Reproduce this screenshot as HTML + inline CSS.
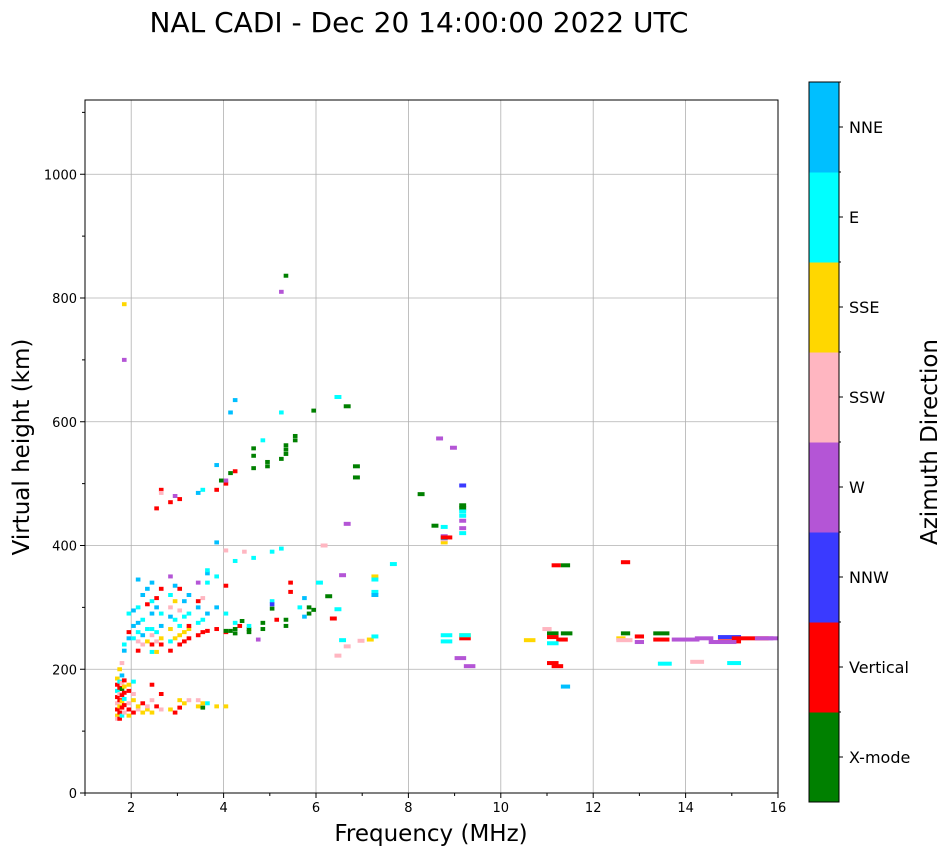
<!DOCTYPE html>
<html><head><meta charset="utf-8"><style>
body{margin:0;background:#fff;}
svg{display:block;font-family:"DejaVu Sans","Liberation Sans",sans-serif;}
</style></head><body>
<svg id="chart" width="951" height="856" viewBox="0 0 951 856" xmlns="http://www.w3.org/2000/svg">
<defs><clipPath id="plotclip"><rect x="85" y="100" width="693" height="693"/></clipPath></defs>
<text x="419" y="32" font-size="28" text-anchor="middle">NAL CADI - Dec 20 14:00:00 2022 UTC</text>
<g id="grid"></g>
<g id="marks" clip-path="url(#plotclip)"></g>
<rect x="85" y="100" width="693" height="693" fill="none" stroke="#000" stroke-width="1"/>
<g id="axes"></g>
<text x="431" y="841" font-size="23" text-anchor="middle">Frequency (MHz)</text>
<text transform="translate(29,447) rotate(-90)" font-size="23" text-anchor="middle">Virtual height (km)</text>
<g id="cbar"></g>
<text transform="translate(937,442) rotate(-90)" font-size="23" text-anchor="middle">Azimuth Direction</text>
</svg>
<script>
const dirLabels=["X-mode","Vertical","NNW","W","SSW","SSE","E","NNE"];
const dirColors=["#008000","#ff0000","#3a3aff","#b455d6","#ffb6c1","#ffd700","#00ffff","#00bfff"];
const xTicks=[2,4,6,8,10,12,14,16];
const yTicks=[0,200,400,600,800,1000];
// echoes: frequency (MHz), virtual height (km), direction index, width (MHz)
const freqs=[
1.65,1.65,1.65,1.65,1.65,1.65,1.65,1.65,
1.7,1.7,1.7,1.7,1.7,1.7,1.7,1.7,
1.75,1.75,1.75,1.75,1.75,1.75,1.75,1.75,
1.8,1.8,1.8,1.8,1.8,1.8,1.8,1.8,1.8,1.8,
1.9,1.9,1.9,1.9,1.9,1.9,1.9,1.9,
2.0,2.0,2.0,2.0,2.0,2.0,2.0,
2.1,2.1,2.1,2.1,2.1,2.1,2.1,2.1,
2.2,2.2,2.2,2.2,2.2,2.2,
2.3,2.3,2.3,2.3,2.3,2.3,
2.4,2.4,2.4,2.4,2.4,2.4,2.4,2.4,2.4,2.4,
2.5,2.5,2.5,2.5,2.5,2.5,2.5,
2.6,2.6,2.6,2.6,2.6,2.6,2.6,2.6,2.6,
2.8,2.8,2.8,2.8,2.8,2.8,2.8,2.8,2.8,
2.9,2.9,2.9,2.9,2.9,2.9,
3.0,3.0,3.0,3.0,3.0,3.0,3.0,3.0,
3.1,3.1,3.1,3.1,3.1,
3.2,3.2,3.2,3.2,3.2,3.2,
3.4,3.4,3.4,3.4,3.4,3.4,3.4,3.4,
3.5,3.5,3.5,3.5,3.5,3.5,
3.6,3.6,3.6,3.6,3.6,3.6,
3.8,3.8,3.8,3.8,3.8,3.8,3.8,
4.0,4.0,4.0,4.0,4.0,4.0,
4.1,4.2,5.2,4.8,4.6,4.6,4.6,4.2,3.9,4.9,4.9,5.2,5.3,5.3,5.3,5.5,5.5,4.1,4.4,4.2,4.0,4.6,5.0,5.2,5.4,6.0,
5.8,5.8,5.9,5.7,5.3,5.3,5.1,4.8,4.8,4.5,4.5,4.2,4.2,4.0,5.0,5.0,5.6,5.7,5.4,5.0,4.7,4.2,4.5,4.3,4.35,4.1,
5.2,5.3,
7.6,7.2,7.2,7.2,7.2,6.8,6.8,6.6,6.4,6.6,6.1,5.9,6.4,6.2,6.5,6.4,6.6,6.9,7.1,7.2,6.3,6.5,
9.1,9.1,9.1,9.1,9.1,9.1,9.1,9.1,8.6,8.9,8.5,8.2,8.7,8.7,8.7,8.7,8.7,8.7,8.7,8.7,9.1,9.1,9.1,9.0,9.2,
11.1,11.3,12.6,11.3,11.0,11.1,10.5,11.0,11.0,11.2,11.0,11.3,10.9,
12.5,12.6,12.9,12.9,12.5,13.3,13.3,13.4,13.7,14.1,14.2,14.7,14.7,15.0,15.5,15.8,14.9,14.5
];
const heights=[
125,135,145,155,165,175,185,120,
130,140,150,160,170,180,200,120,
125,138,148,158,168,178,190,210,
130,142,152,162,172,182,700,790,230,240,
125,135,145,165,175,250,260,290,
130,150,160,180,250,270,295,
135,140,230,245,260,275,300,345,
130,145,240,255,280,320,
135,140,245,265,305,330,
130,150,175,240,255,265,290,310,340,228,
140,228,245,260,300,315,460,
135,160,240,250,270,290,330,490,485,
135,230,245,265,285,300,320,350,470,
130,250,280,310,335,480,
138,150,240,255,270,295,330,475,
145,245,260,285,310,
150,250,265,290,320,270,
140,150,255,275,300,310,340,485,
138,145,260,280,315,490,
145,262,290,340,355,360,
140,265,300,350,405,490,530,
140,260,290,335,500,505,
615,635,615,570,557,545,525,520,505,528,535,540,548,555,562,570,577,517,390,375,392,380,390,395,340,340,
300,290,296,285,270,280,280,275,265,265,260,258,265,262,298,310,300,315,325,305,248,275,270,270,278,262,
810,836,
370,350,345,325,320,528,510,625,640,435,400,618,297,318,247,222,237,246,248,253,282,352,
465,460,455,448,440,428,420,497,573,558,432,483,430,415,405,410,412,413,255,245,250,255,255,218,205,
368,368,373,172,210,205,247,258,252,248,242,258,265,
250,258,253,244,247,258,248,209,248,212,250,252,245,250,250,250,210,244
];
const dirs=[
5,1,4,1,6,1,5,4,
1,5,1,4,1,6,5,1,
6,1,5,1,0,4,7,4,
4,1,6,1,5,1,3,5,7,6,
5,1,4,1,5,7,1,6,
1,5,4,6,6,7,7,
4,5,1,4,6,7,6,7,
5,1,4,7,6,7,
5,4,5,6,1,7,
5,4,1,1,4,6,7,6,7,6,
1,5,4,6,7,1,1,
4,1,1,5,7,6,1,1,4,
5,1,6,5,7,4,6,3,1,
1,5,6,5,7,3,
1,5,1,5,6,4,1,1,
5,1,5,6,7,
4,1,5,6,7,1,
5,4,1,6,7,1,3,7,
0,5,1,6,4,6,
6,1,7,6,7,6,
5,1,7,6,7,1,7,
5,1,6,1,1,3,
7,7,6,6,0,0,0,1,0,0,0,0,0,0,0,0,0,0,4,6,4,6,6,6,1,6,
0,0,0,7,0,0,1,0,0,0,0,0,0,0,0,6,6,7,1,2,3,6,6,1,0,0,
3,0,
6,5,6,6,7,0,0,0,6,3,4,0,6,0,6,4,4,4,5,6,1,3,
0,0,6,6,3,3,6,2,3,3,0,0,6,3,5,4,7,1,6,6,1,5,6,3,3,
1,0,1,7,1,1,5,0,1,1,6,0,4,
5,0,1,3,4,0,1,6,3,4,3,2,1,1,3,3,6,3
];
const widths=[];
for(let i=0;i<freqs.length;i++){widths.push(freqs[i]<6?0.1:0.15);}
const wideIdx=[[280,0.35],[281,0.35],[282,0.35],[283,0.3],[284,0.6],[285,0.3],[286,0.4],[287,0.5],[288,0.5],[289,0.8],[290,0.4],[291,0.4],[292,0.3],
[293,0.6],[294,0.7],[295,0.3],[296,0.4],[297,0.5],[298,0.4],[299,0.4],[300,0.4],[301,0.5],[302,0.4],[303,0.4],[304,0.8],[305,0.8],[306,0.5],[307,0.5],[308,0.4],[309,0.4],[310,0.4],
[255,0.25],[256,0.25],[257,0.25],[258,0.25],[259,0.25],[260,0.25],[261,0.25],[262,0.25],[263,0.2],[264,0.2],[265,0.2],[266,0.2],[267,0.25],[268,0.25],[269,0.25],[270,0.25],[271,0.25],[272,0.25],[273,0.25],[274,0.25],[275,0.2],[276,0.2],[277,0.2],[278,0.2],[279,0.2]];
wideIdx.forEach(p=>{if(p[0]<widths.length)widths[p[0]]=p[1];});

const NS="http://www.w3.org/2000/svg";
const X0=85,X1=778,Y0=793,Y1=100,XMIN=1,XMAX=16,YMIN=0,YMAX=1120;
function xs(v){return X0+(v-XMIN)/(XMAX-XMIN)*(X1-X0);}
function ys(v){return Y0-(v-YMIN)/(YMAX-YMIN)*(Y0-Y1);}
function mk(tag,attrs,parent){const e=document.createElementNS(NS,tag);for(const k in attrs)e.setAttribute(k,attrs[k]);parent.appendChild(e);return e;}
const grid=document.getElementById('grid'),axes=document.getElementById('axes'),marks=document.getElementById('marks'),cbar=document.getElementById('cbar');
xTicks.forEach(t=>{const x=xs(t);
 const g=mk('line',{x1:x,x2:x,y1:Y1,y2:Y0,stroke:'#b0b0b0','stroke-width':0.8},grid);
 
 mk('line',{x1:x,x2:x,y1:Y0,y2:Y0+5,stroke:'#000'},axes);
 const tx=mk('text',{x:x,y:Y0+19,'font-size':13,'text-anchor':'middle'},axes);tx.textContent=t;
 });
for(let t=1;t<=15;t+=2){const x=xs(t);mk('line',{x1:x,x2:x,y1:Y0,y2:Y0+3,stroke:'#000'},axes);}
yTicks.forEach(t=>{const y=ys(t);
 const g=mk('line',{x1:X0,x2:X1,y1:y,y2:y,stroke:'#b0b0b0','stroke-width':0.8},grid);
 
 mk('line',{x1:X0-5,x2:X0,y1:y,y2:y,stroke:'#000'},axes);
 const tx=mk('text',{x:X0-8,y:y+5,'font-size':13,'text-anchor':'end'},axes);tx.textContent=t;
 });
for(let t=100;t<=1100;t+=100){if(t%200){const y=ys(t);mk('line',{x1:X0-3,x2:X0,y1:y,y2:y,stroke:'#000'},axes);}}
for(let i=0;i<freqs.length;i++){
 const x=xs(freqs[i]),w=Math.max(4,xs(freqs[i]+widths[i])-x);
 const r=mk('rect',{x:x,y:ys(heights[i])-2,width:w,height:4,fill:dirColors[dirs[i]]},marks);
 
 }
const CX=809,CW=30,CT=82,CB=802,seg=(CB-CT)/dirLabels.length;
dirLabels.forEach((lab,i)=>{const y=CB-(i+1)*seg;
 const r=mk('rect',{x:CX,y:y,width:CW,height:seg+0.5,fill:dirColors[i]},cbar);
 
 mk('line',{x1:CX+CW,x2:CX+CW+4,y1:y+seg/2,y2:y+seg/2,stroke:'#000'},cbar);
 mk('line',{x1:CX+CW,x2:CX+CW+2,y1:y,y2:y,stroke:'#000'},cbar);
 const t=mk('text',{x:CX+CW+10,y:y+seg/2+6,'font-size':16},cbar);t.textContent=lab;
 });
mk('rect',{x:CX,y:CT,width:CW,height:CB-CT,fill:'none',stroke:'#000'},cbar);
</script>
</body></html>
